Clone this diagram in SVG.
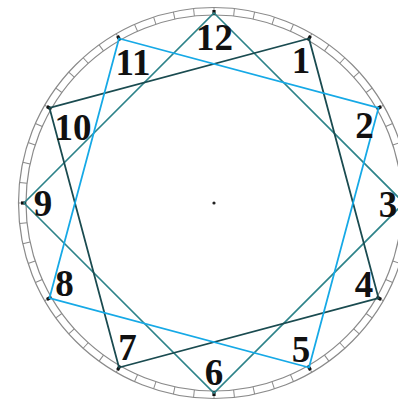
<svg xmlns="http://www.w3.org/2000/svg" xmlns:xlink="http://www.w3.org/1999/xlink" width="398" height="404" viewBox="0 0 398 404">
<style>
.ring{fill:none;stroke:#8a8a8a;stroke-width:1.2}
.tick{stroke:#8a8a8a;stroke-width:1}
.hour{stroke:#111;stroke-width:3.2}
.dark{fill:none;stroke:#1a4b50;stroke-width:1.8}
.blue{fill:none;stroke:#16a9e6;stroke-width:1.8}
.teal{fill:none;stroke:#2d8389;stroke-width:1.6}
text{font-family:"Liberation Serif","Times New Roman",serif;font-weight:bold;font-size:37px;fill:#111;text-anchor:middle}
</style>
<defs>
<line id="t" x1="0" y1="-188" x2="0" y2="-195.5" class="tick"/>
<line id="h" x1="0" y1="-188" x2="0" y2="-193" class="hour"/>
</defs>
<rect width="398" height="404" fill="#fff"/>
<g id="dial" transform="translate(214,203)">
<circle r="195.5" class="ring"/>
<circle r="188" class="ring"/>
<use xlink:href="#t" transform="rotate(0)"/><use xlink:href="#t" transform="rotate(6)"/><use xlink:href="#t" transform="rotate(12)"/><use xlink:href="#t" transform="rotate(18)"/><use xlink:href="#t" transform="rotate(24)"/><use xlink:href="#t" transform="rotate(30)"/><use xlink:href="#t" transform="rotate(36)"/><use xlink:href="#t" transform="rotate(42)"/><use xlink:href="#t" transform="rotate(48)"/><use xlink:href="#t" transform="rotate(54)"/>
<use xlink:href="#t" transform="rotate(60)"/><use xlink:href="#t" transform="rotate(66)"/><use xlink:href="#t" transform="rotate(72)"/><use xlink:href="#t" transform="rotate(78)"/><use xlink:href="#t" transform="rotate(84)"/><use xlink:href="#t" transform="rotate(90)"/><use xlink:href="#t" transform="rotate(96)"/><use xlink:href="#t" transform="rotate(102)"/><use xlink:href="#t" transform="rotate(108)"/><use xlink:href="#t" transform="rotate(114)"/>
<use xlink:href="#t" transform="rotate(120)"/><use xlink:href="#t" transform="rotate(126)"/><use xlink:href="#t" transform="rotate(132)"/><use xlink:href="#t" transform="rotate(138)"/><use xlink:href="#t" transform="rotate(144)"/><use xlink:href="#t" transform="rotate(150)"/><use xlink:href="#t" transform="rotate(156)"/><use xlink:href="#t" transform="rotate(162)"/><use xlink:href="#t" transform="rotate(168)"/><use xlink:href="#t" transform="rotate(174)"/>
<use xlink:href="#t" transform="rotate(180)"/><use xlink:href="#t" transform="rotate(186)"/><use xlink:href="#t" transform="rotate(192)"/><use xlink:href="#t" transform="rotate(198)"/><use xlink:href="#t" transform="rotate(204)"/><use xlink:href="#t" transform="rotate(210)"/><use xlink:href="#t" transform="rotate(216)"/><use xlink:href="#t" transform="rotate(222)"/><use xlink:href="#t" transform="rotate(228)"/><use xlink:href="#t" transform="rotate(234)"/>
<use xlink:href="#t" transform="rotate(240)"/><use xlink:href="#t" transform="rotate(246)"/><use xlink:href="#t" transform="rotate(252)"/><use xlink:href="#t" transform="rotate(258)"/><use xlink:href="#t" transform="rotate(264)"/><use xlink:href="#t" transform="rotate(270)"/><use xlink:href="#t" transform="rotate(276)"/><use xlink:href="#t" transform="rotate(282)"/><use xlink:href="#t" transform="rotate(288)"/><use xlink:href="#t" transform="rotate(294)"/>
<use xlink:href="#t" transform="rotate(300)"/><use xlink:href="#t" transform="rotate(306)"/><use xlink:href="#t" transform="rotate(312)"/><use xlink:href="#t" transform="rotate(318)"/><use xlink:href="#t" transform="rotate(324)"/><use xlink:href="#t" transform="rotate(330)"/><use xlink:href="#t" transform="rotate(336)"/><use xlink:href="#t" transform="rotate(342)"/><use xlink:href="#t" transform="rotate(348)"/><use xlink:href="#t" transform="rotate(354)"/>
<use xlink:href="#h" transform="rotate(0)"/><use xlink:href="#h" transform="rotate(30)"/><use xlink:href="#h" transform="rotate(60)"/><use xlink:href="#h" transform="rotate(90)"/><use xlink:href="#h" transform="rotate(120)"/><use xlink:href="#h" transform="rotate(150)"/><use xlink:href="#h" transform="rotate(180)"/><use xlink:href="#h" transform="rotate(210)"/><use xlink:href="#h" transform="rotate(240)"/><use xlink:href="#h" transform="rotate(270)"/><use xlink:href="#h" transform="rotate(300)"/><use xlink:href="#h" transform="rotate(330)"/>
<circle r="1.6" fill="#222"/>
</g>
<g id="connectors">
<polygon class="teal" points="214,13 404,203 214,393 24,203"/>
<polygon class="dark" points="309,38.5 378.5,298 119,367.5 49.5,108"/>
<polygon class="blue" points="119,38.5 378.5,108 309,367.5 49.5,298"/>
</g>
<g id="labels">
<g id="n12"><text x="214.5" y="50">12</text></g>
<g id="n1"><text x="301" y="73">1</text></g>
<g id="n2"><text x="364.5" y="138">2</text></g>
<g id="n3"><text x="388" y="217">3</text></g>
<g id="n4"><text x="364" y="297">4</text></g>
<g id="n5"><text x="301" y="362">5</text></g>
<g id="n6"><text x="214" y="385">6</text></g>
<g id="n7"><text x="127.5" y="360">7</text></g>
<g id="n8"><text x="64.5" y="296">8</text></g>
<g id="n9"><text x="43" y="216">9</text></g>
<g id="n10"><text x="73" y="140">10</text></g>
<g id="n11"><text x="133" y="75">11</text></g>
</g>
</svg>
